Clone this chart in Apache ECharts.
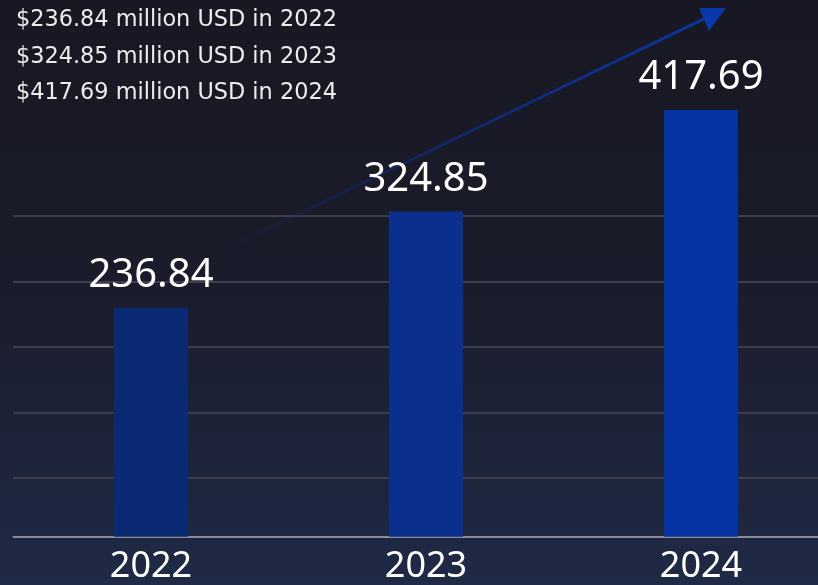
<!DOCTYPE html>
<html>
<head>
<meta charset="utf-8">
<script src="https://cdn.jsdelivr.net/npm/echarts@6/dist/echarts.min.js"></script>
<style>
html,body{margin:0;padding:0;background:#191926;}
#chart{width:818px;height:585px;}
</style>
</head>
<body>
<div id="chart"></div>
<script>
const categories = ['2022', '2023', '2024'];
const values = [236.84, 324.85, 417.69];
const barColors = ['#0b2a74', '#0a2f8c', '#0533a2'];
const gridTicks = [0, 1, 2, 3, 4];

const chart = echarts.init(document.getElementById('chart'), null, {renderer: 'canvas'});

const summary = categories.map((c, i) => '$' + values[i].toFixed(2) + ' million USD in ' + c).join('\n');

const option = {
  backgroundColor: {
    type: 'linear', x: 0, y: 0, x2: 0, y2: 1,
    colorStops: [
      {offset: 0, color: '#181824'},
      {offset: 0.5, color: '#1b1c2b'},
      {offset: 1, color: '#1f2a46'}
    ]
  },
  animation: false,
  title: {
    text: summary,
    left: 16,
    top: 2,
    padding: 0,
    textStyle: {
      color: '#ececec',
      fontFamily: 'DejaVu Sans',
      fontWeight: 'normal',
      fontSize: 22.4,
      lineHeight: 36.5
    }
  },
  grid: [
    {left: 13.5, width: 825, top: 36.7, bottom: 48.3, outerBoundsMode: 'none', containLabel: false},
    {left: 13, width: 830, top: 216, bottom: 107.3, outerBoundsMode: 'none', containLabel: false}
  ],
  xAxis: [
    {
      type: 'category', gridIndex: 0, data: categories,
      axisLine: {show: true, lineStyle: {color: '#8c8c98', width: 2}},
      axisTick: {show: false},
      axisLabel: {color: '#ffffff', fontFamily: 'Noto Sans', fontSize: 36, margin: 12},
      splitLine: {show: false}
    },
    {type: 'value', gridIndex: 1, show: false, min: 0, max: 1}
  ],
  yAxis: [
    {
      type: 'value', gridIndex: 0, min: 27.6, max: 484.8,
      show: false, splitLine: {show: false}
    },
    {
      type: 'value', gridIndex: 1, min: gridTicks[0], max: gridTicks[gridTicks.length - 1], interval: 1,
      axisLine: {show: false}, axisTick: {show: false}, axisLabel: {show: false},
      splitLine: {show: true, lineStyle: {color: '#3d3d4e', width: 2}}
    }
  ],
  graphic: [
    {
      type: 'line', z: 1,
      shape: {x1: 226, y1: 249, x2: 712, y2: 15},
      style: {
        lineWidth: 3,
        stroke: {
          type: 'linear', x: 0, y: 0, x2: 1, y2: 0,
          colorStops: [
            {offset: 0, color: 'rgba(12,45,140,0.05)'},
            {offset: 0.4, color: 'rgba(12,50,150,0.5)'},
            {offset: 1, color: 'rgba(8,56,170,1)'}
          ]
        }
      }
    },
    {
      type: 'polygon', z: 1,
      shape: {points: [[699, 8], [726, 8], [709, 31]]},
      style: {fill: '#0838aa'}
    }
  ],
  series: [
    {
      type: 'bar', xAxisIndex: 0, yAxisIndex: 0,
      data: values.map((v, i) => ({value: v, itemStyle: {color: barColors[i]}})),
      barWidth: 74,
      z: 3,
      label: {
        show: true, position: 'top', distance: 12,
        color: '#ffffff', fontFamily: 'Noto Sans', fontSize: 40,
        formatter: p => p.value.toFixed(2)
      }
    }
  ]
};
chart.setOption(option);
</script>
</body>
</html>
